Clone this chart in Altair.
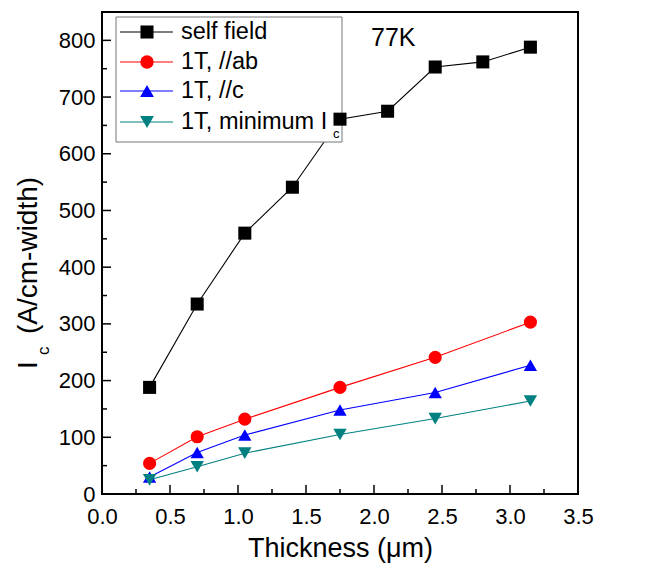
import altair as alt
import pandas as pd

# ---------------- data ----------------
series_names = ["self field", "1T, //ab", "1T, //c", "1T, minimum I"]
series_colors = ["#000000", "#ff0000", "#0000ff", "#008080"]
series_shapes = ["square", "circle", "triangle-up", "triangle-down"]
series_sizes = [170, 180, 190, 190]

thickness_self = [0.35, 0.70, 1.05, 1.40, 1.75, 2.10, 2.45, 2.80, 3.15]
ic_self = [188, 335, 460, 541, 661, 675, 753, 762, 788]

thickness_1t = [0.35, 0.70, 1.05, 1.75, 2.45, 3.15]
ic_ab = [54, 101, 132, 188, 241, 303]
ic_c = [30, 73, 104, 148, 179, 227]
ic_min = [25, 48, 72, 105, 133, 164]

x_major = [0, 0.5, 1.0, 1.5, 2.0, 2.5, 3.0, 3.5]
x_minor = [0.25, 0.75, 1.25, 1.75, 2.25, 2.75, 3.25]
y_major = [0, 100, 200, 300, 400, 500, 600, 700, 800]
y_minor = [50, 150, 250, 350, 450, 550, 650, 750]

# ---------------- tables ----------------
rows = []
for xv, yv in zip(thickness_self, ic_self):
    rows.append({"series": series_names[0], "x": xv, "y": yv})
for name, vals in zip(series_names[1:], [ic_ab, ic_c, ic_min]):
    for xv, yv in zip(thickness_1t, vals):
        rows.append({"series": name, "x": xv, "y": yv})
df = pd.DataFrame(rows)

W, H = 476, 482
FONT = "Liberation Sans"

xscale = alt.Scale(domain=[0, 3.5], nice=False, zero=False)
yscale = alt.Scale(domain=[0, 850], nice=False, zero=False)
cscale = alt.Scale(domain=series_names, range=series_colors)
sscale = alt.Scale(domain=series_names, range=series_shapes)
zscale = alt.Scale(domain=series_names, range=series_sizes)

x_axis = alt.Axis(values=x_major, format=".1f", title="Thickness (μm)",
                  titleFontSize=27, titlePadding=8, labelPadding=12)
y_axis = alt.Axis(values=y_major, title="", labelPadding=7)

lines = alt.Chart(df).mark_line(strokeWidth=1.1).encode(
    x=alt.X("x:Q", scale=xscale, axis=x_axis),
    y=alt.Y("y:Q", scale=yscale, axis=y_axis),
    color=alt.Color("series:N", scale=cscale, legend=None),
    order="x:Q",
)
points = alt.Chart(df).mark_point(filled=True, opacity=1).encode(
    x=alt.X("x:Q", scale=xscale, axis=x_axis),
    y=alt.Y("y:Q", scale=yscale, axis=y_axis),
    color=alt.Color("series:N", scale=cscale, legend=None),
    shape=alt.Shape("series:N", scale=sscale, legend=None),
    size=alt.Size("series:N", scale=zscale, legend=None),
)

# inward ticks drawn through the shared scales
def xticks(vals, length):
    d = pd.DataFrame({"x": vals})
    return alt.Chart(d).mark_rule(color="black", strokeWidth=1.5).encode(
        x=alt.X("x:Q", scale=xscale, axis=x_axis),
        y=alt.value(H), y2=alt.value(H - length))

def yticks(vals, length):
    d = pd.DataFrame({"y": vals})
    return alt.Chart(d).mark_rule(color="black", strokeWidth=1.5).encode(
        y=alt.Y("y:Q", scale=yscale, axis=y_axis),
        x=alt.value(0), x2=alt.value(length))

ticks = [xticks(x_major, 9), xticks(x_minor, 5), yticks(y_major, 9), yticks(y_minor, 5)]

dummy = pd.DataFrame({"a": [0]})

# legend box
legend_layers = [
    alt.Chart(dummy).mark_rect(fill="white", stroke="#777777", strokeWidth=1).encode(
        x=alt.value(14), x2=alt.value(240), y=alt.value(5), y2=alt.value(130))
]
row_y = [20, 50, 79, 110]
for name, col, shp, sz, yy in zip(series_names, series_colors, series_shapes, series_sizes, row_y):
    legend_layers.append(alt.Chart(dummy).mark_rule(color=col, strokeWidth=1.1).encode(
        x=alt.value(18), x2=alt.value(71), y=alt.value(yy)))
    legend_layers.append(alt.Chart(dummy).mark_point(shape=shp, filled=True, opacity=1,
                                                     size=sz, color=col).encode(
        x=alt.value(45), y=alt.value(yy)))
    legend_layers.append(alt.Chart(dummy).mark_text(align="left", baseline="middle",
                                                    fontSize=23.5, font=FONT, color="black").encode(
        x=alt.value(79), y=alt.value(yy), text=alt.value(name)))
legend_layers.append(alt.Chart(dummy).mark_text(align="left", baseline="middle",
                                                fontSize=13, font=FONT, color="black").encode(
    x=alt.value(231), y=alt.value(122), text=alt.value("c")))

# annotations
annot = [
    alt.Chart(dummy).mark_text(align="left", baseline="middle", fontSize=25, font=FONT,
                               color="black").encode(
        x=alt.value(269), y=alt.value(26), text=alt.value("77K")),
    alt.Chart(dummy).mark_text(align="left", baseline="middle", fontSize=28, font=FONT,
                               angle=270, color="black").encode(
        x=alt.value(-73), y=alt.value(357), text=alt.value("I")),
    alt.Chart(dummy).mark_text(align="left", baseline="middle", fontSize=17, font=FONT,
                               angle=270, color="black").encode(
        x=alt.value(-58), y=alt.value(343), text=alt.value("c")),
    alt.Chart(dummy).mark_text(align="left", baseline="middle", fontSize=28, font=FONT,
                               angle=270, color="black").encode(
        x=alt.value(-73), y=alt.value(322), text=alt.value("(A/cm-width)")),
]

chart = alt.layer(lines, *legend_layers, points, *ticks, *annot).properties(
    width=W, height=H,
    autosize=alt.AutoSizeParams(type="none"),
    padding={"left": 94, "top": 4, "right": 80, "bottom": 70},
).configure_axis(
    labelFont=FONT, labelFontSize=22, labelColor="black",
    titleFont=FONT, titleFontWeight="normal", titleColor="black",
    domain=False, ticks=False, tickSize=0, grid=False,
    labelOverlap=False, labelFlush=False,
).configure_view(
    stroke="black", strokeWidth=2
)

chart.save("out.html", embed_options={"renderer": "svg", "actions": False})
